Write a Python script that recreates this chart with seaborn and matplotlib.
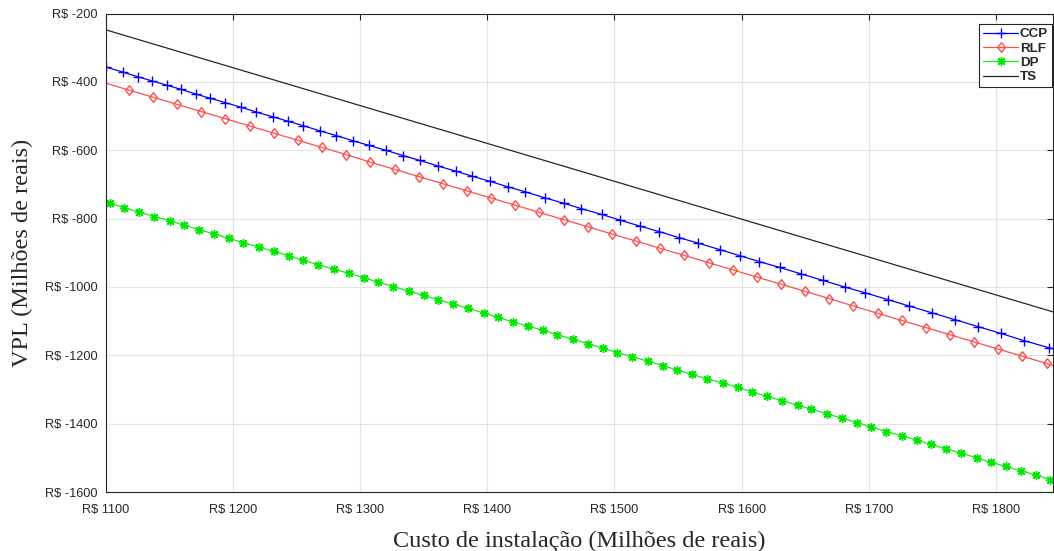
import matplotlib
matplotlib.use("Agg")
import matplotlib.pyplot as plt
import seaborn as sns

# ── data ──────────────────────────────────────────────────────────────────────

ccp_x = [1100, 1113, 1125, 1136, 1148, 1159, 1171, 1182, 1194, 1206, 1218, 1231,
         1243, 1255, 1268, 1281, 1294, 1307, 1320, 1334, 1347, 1361, 1375, 1388,
         1402, 1416, 1430, 1445, 1460, 1474, 1490, 1504, 1520, 1535, 1551, 1566,
         1583, 1599, 1614, 1630, 1647, 1664, 1681, 1697, 1715, 1732, 1750, 1768,
         1786, 1804, 1822, 1842, 1845]
ccp_y = [-357, -371, -385, -397, -410, -422, -436, -448, -461, -474, -488, -502,
         -515, -528, -543, -557, -572, -586, -600, -616, -630, -646, -661, -676,
         -691, -707, -722, -739, -755, -771, -788, -804, -822, -838, -856, -872,
         -891, -909, -926, -943, -962, -981, -1000, -1017, -1037, -1056, -1076, -1096,
         -1116, -1136, -1157, -1178, -1181]

rlf_x = [1100, 1118, 1137, 1156, 1175, 1194, 1213, 1232, 1251, 1270, 1289, 1308,
         1327, 1346, 1365, 1384, 1403, 1422, 1441, 1460, 1479, 1498, 1517, 1536,
         1555, 1574, 1593, 1612, 1631, 1650, 1669, 1688, 1707, 1726, 1745, 1764,
         1783, 1802, 1821, 1840, 1845]
rlf_y = [-404, -424, -445, -466, -487, -508, -529, -550, -571, -592, -613, -635,
         -656, -677, -698, -719, -740, -761, -782, -803, -824, -845, -866, -887,
         -908, -929, -950, -971, -992, -1013, -1034, -1056, -1077, -1098, -1119, -1140,
         -1161, -1182, -1203, -1224, -1230]

dp_x = [1100, 1103, 1114, 1126, 1138, 1150, 1161, 1173, 1185, 1197, 1208, 1220,
        1232, 1244, 1255, 1267, 1279, 1291, 1303, 1314, 1326, 1338, 1350, 1361,
        1373, 1385, 1397, 1408, 1420, 1432, 1444, 1455, 1467, 1479, 1491, 1502,
        1514, 1526, 1538, 1549, 1561, 1573, 1585, 1597, 1608, 1620, 1632, 1644,
        1655, 1667, 1679, 1691, 1702, 1714, 1726, 1738, 1749, 1761, 1773, 1785,
        1796, 1808, 1820, 1832, 1843, 1845]
dp_y = [-752, -755, -768, -781, -794, -806, -819, -832, -845, -858, -871, -883,
        -896, -909, -922, -935, -948, -960, -973, -986, -999, -1012, -1025, -1037,
        -1050, -1063, -1076, -1089, -1102, -1115, -1127, -1140, -1153, -1166, -1179, -1192,
        -1204, -1217, -1230, -1243, -1256, -1269, -1281, -1294, -1307, -1320, -1333, -1346,
        -1358, -1371, -1384, -1397, -1410, -1423, -1436, -1448, -1461, -1474, -1487, -1500,
        -1513, -1525, -1538, -1551, -1564, -1566]

ts_x = [1100, 1845]
ts_y = [-248, -1073]

x_ticks = [1100, 1200, 1300, 1400, 1500, 1600, 1700, 1800]
y_ticks = [-1600, -1400, -1200, -1000, -800, -600, -400, -200]

# MATLAB-like diamond (a bit taller than wide)
diamond = [(0, 1), (0.78, 0), (0, -1), (-0.78, 0), (0, 1)]

# ── figure ────────────────────────────────────────────────────────────────────

sns.set_style("white")
plt.rcParams["font.family"] = ["Liberation Sans", "DejaVu Sans"]

fig = plt.figure(figsize=(10.54, 5.51), dpi=100)
ax = fig.add_axes([106 / 1054, 1 - 492 / 551, 947 / 1054, 478.5 / 551])

sns.lineplot(x=ccp_x, y=ccp_y, ax=ax, color="#0000ff", lw=0.9, marker="+",
             markersize=7.5, markeredgecolor="#0000ff", markeredgewidth=1,
             markevery=slice(0, -1), label="CCP")
sns.lineplot(x=rlf_x, y=rlf_y, ax=ax, color="#ff4d4d", lw=0.9, marker=diamond,
             markersize=7, markerfacecolor="none", markeredgecolor="#ff4d4d",
             markeredgewidth=1, markevery=slice(1, -1), label="RLF")
sns.lineplot(x=dp_x, y=dp_y, ax=ax, color="#10f010", lw=0.9, marker=(8, 2, 0),
             markersize=6.5, markeredgecolor="#00e600", markeredgewidth=1,
             markevery=slice(1, -1), label="DP")
sns.lineplot(x=ts_x, y=ts_y, ax=ax, color="#262626", lw=0.9, label="TS")

ax.set_xlim(1100, 1845)
ax.set_ylim(-1600, -200)
ax.set_xticks(x_ticks)
ax.set_yticks(y_ticks)
ax.set_xticklabels([f"R$ {v}" for v in x_ticks])
ax.set_yticklabels([f"R$ {v}" for v in y_ticks])
ax.tick_params(direction="in", length=4, width=0.8, top=True, right=True,
               labelsize=9.2, colors="#262626", pad=6)
ax.tick_params(axis="x", pad=8.5)
ax.grid(True, color="#e3e3e3", lw=0.8)
for sp in ax.spines.values():
    sp.set_color("#262626")
    sp.set_linewidth(0.8)

ax.set_xlabel("Custo de instalação (Milhões de reais)", family="Liberation Serif",
              fontsize=17.5, labelpad=11)
ax.set_ylabel("VPL (Milhões de reais)", family="Liberation Serif",
              fontsize=17.5, labelpad=9)

leg = ax.legend(loc="upper right", bbox_to_anchor=(0.999, 0.978), borderaxespad=0,
                prop={"weight": "bold", "size": 9.6}, fancybox=False, framealpha=1,
                edgecolor="#262626", handlelength=2.6, handletextpad=0.15,
                labelspacing=0.15, borderpad=0.3)
leg.get_frame().set_linewidth(0.8)

fig.savefig("out.png", dpi=100)
